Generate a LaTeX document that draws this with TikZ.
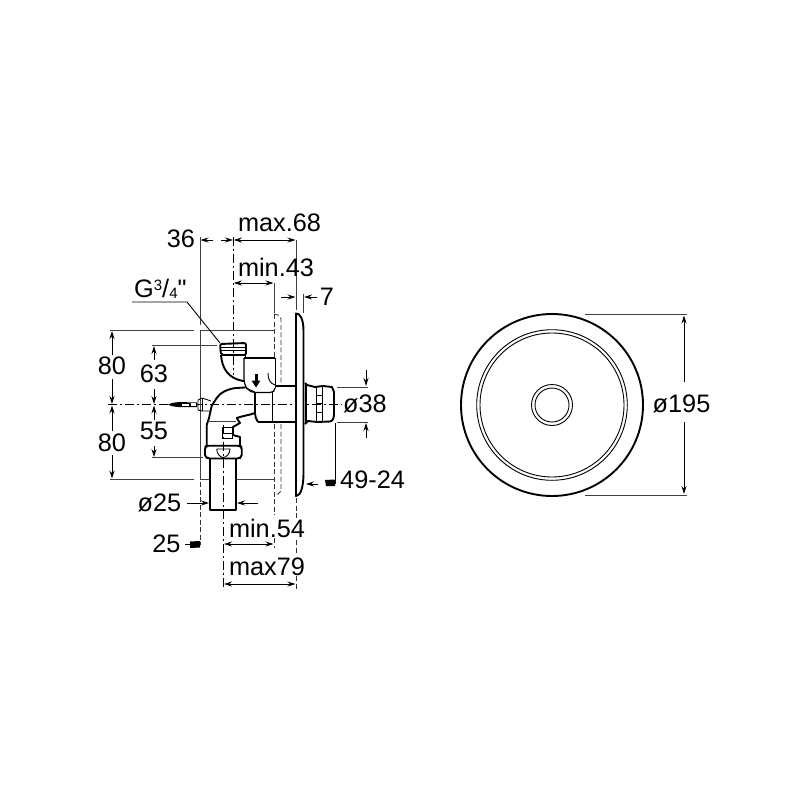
\documentclass[tikz,border=0pt]{standalone}
\usepackage{fontspec}
\setmainfont{Liberation Sans}
\newfontfamily\plainquote{Liberation Sans}
\usetikzlibrary{arrows.meta}
\tikzset{
  x=1pt,y=-1pt,
  lab/.style={inner sep=0pt,font=\fontsize{25.3}{27}\selectfont},
  thin line/.style={line width=0.9pt,draw=black},
  ext/.style={line width=1pt,draw=black!75},
  dim/.style={line width=0.8pt,draw=black,-{Stealth[length=8pt,width=5pt]}},
  dimb/.style={line width=0.8pt,draw=black,{Stealth[length=8pt,width=5pt]}-{Stealth[length=8pt,width=5pt]}},
  body/.style={line width=1.9pt,draw=black,line join=round},
  detail/.style={line width=0.9pt,draw=black},
  axis/.style={line width=0.8pt,draw=black,dash pattern=on 9pt off 3pt on 2pt off 3pt},
  hidden/.style={line width=0.8pt,draw=black!80,dash pattern=on 5pt off 2.5pt},
  tick/.style={fill=black,draw=none}
}
\begin{document}
\begin{tikzpicture}
\useasboundingbox (0,0) rectangle (800,800);
% --- axes
\draw[axis] (108,404.7) -- (342,404.7);
\draw[axis] (233.3,237) -- (233.3,375);
\draw[axis] (223,425) -- (223,590);
% --- extension lines
\draw[ext] (200,237) -- (200,325);
\draw[ext] (110,330) -- (194,330);
\draw[ext] (200,330) -- (274,330);
\draw[ext] (200,330) -- (200,479);
\draw[ext] (110,479) -- (194,479);
\draw[ext] (200,479) -- (210,479);
\draw[ext] (236,479) -- (274,479);
\draw[ext] (152,345) -- (217,345);
\draw[ext] (152,457.7) -- (203,457.7);
\draw[ext] (296,240) -- (296,310);
\draw[ext] (303,294) -- (303,313);
\draw[ext] (274,283) -- (274,313);
\draw[hidden] (200,482) -- (200,545);
\draw[hidden] (274,314) -- (274,358);
\draw[hidden] (274,424) -- (274,515);
\draw[hidden] (274,538) -- (274,548);
\draw[hidden] (296,498) -- (296,518);
\draw[hidden] (296,540) -- (296,554);
\draw[hidden] (296,576) -- (296,590);
\draw[hidden] (274,314) -- (278,315) -- (281,319) -- (281,385);
\draw[hidden] (281,424) -- (281,491) -- (278,494) -- (274,495);
\draw[ext] (337,387) -- (368,387);
\draw[ext] (337,422) -- (368,422);
\draw[ext] (585,314.5) -- (687,314.5);
\draw[ext] (585,495) -- (687,495);
% --- dimension arrows
\draw[dim] (213,240) -- (200.5,240);
\draw[dim] (221,240) -- (233,240);
\draw[dimb] (233.8,240) -- (295.5,240);
\draw[dimb] (233.8,283) -- (273.5,283);
\draw[dim] (281,297) -- (295.5,297);
\draw[dim] (317,297) -- (304,297);
\draw[dim] (112,355) -- (112,331);
\draw[dim] (112,379) -- (112,404);
\draw[dim] (112,431) -- (112,405.5);
\draw[dim] (112,455) -- (112,478.5);
\draw[dim] (154,360) -- (154,346);
\draw[dim] (154,389) -- (154,404);
\draw[dim] (154,420) -- (154,405.5);
\draw[dim] (154,446) -- (154,457);
\draw[dim] (187,503) -- (209,503);
\draw[dim] (258,503) -- (237,503);
\draw[dimb] (224,544) -- (273.5,544);
\draw[dimb] (224,584) -- (295.5,584);
\draw[dim] (366,370) -- (366,386);
\draw[dim] (366,438) -- (366,423);
\draw[dim] (318,484) -- (306,484);
\draw[dim] (684,382) -- (684,315.5);
\draw[dim] (684,422) -- (684,494);
% leader
\draw[thin line] (132,302) -- (187,302) -- (220,343);
% tick blocks
\draw[thin line] (185,544) -- (190,544);
\fill[tick] (190,541.5) -- (200,541) -- (200,547.5) -- (190,548) -- cycle;
\draw[thin line] (335,423) -- (335,484);
\fill[tick] (325,480) -- (335,479.5) -- (335,486) -- (326,486) -- cycle;
% --- plate
\draw[body,fill=white] (296,496) -- (296,313.5) .. controls (300,313) and (303.5,319) .. (303.5,331) -- (303.5,473) .. controls (303.5,486) and (301,496) .. (296,496) -- cycle;
\draw[line width=1pt,draw=white] (303.5,334) -- (303.5,470);
\draw[detail] (303.5,334) -- (303.5,470);
% --- valve body
\draw[body] (275,386) -- (295,386);
\draw[body] (258,422) -- (295,422);
\draw[body] (255,393) -- (255,413) .. controls (255.5,417) and (256,420) .. (258,422);
\draw[detail] (272,392) -- (272,422);
\draw[body] (305,383) -- (307,385) -- (315,387) -- (323,386) -- (332,387) -- (334,392) -- (334,413) .. controls (334,418) and (333,421) .. (330,421.5) -- (317,422) -- (308,421) -- (305,424);
\draw[body] (306,384) -- (306,423);
\draw[detail] (316,387) -- (316,422) (322,386) -- (322,422);
\draw[detail] (316,395) -- (322,395) (316,403) -- (322,403) (316,412) -- (322,412);
% valve box
\draw[body] (244,358) -- (275,358);
\draw[line width=1.2pt] (244,358) -- (244,378) .. controls (244,387) and (249,392.5) .. (255,392.5) -- (270,392.5) .. controls (273,392.5) and (275,391) .. (275,388);
\draw[detail] (275,358) -- (275,388);
\draw[detail] (268,373) .. controls (268,380) and (270,383) .. (275,385);
% flow arrow
\fill (254.5,374) rectangle (257.5,381);
\fill (251.5,380.5) -- (260.5,380.5) -- (256,387.5) -- cycle;
% upper threaded elbow
\draw[body,rounded corners=2pt] (221,355) -- (220,344) -- (246,343) -- (246,355) -- cycle;
\draw[detail] (220.5,347) -- (246,347) (220.5,350) -- (246,350);
\draw[body] (221,355) .. controls (222,368) and (228,379) .. (244,381);
\draw[detail] (245,355) -- (245,358);
% lower elbow
\draw[body] (245,387.5) -- (236,388) .. controls (227,389) and (220,393) .. (216.7,398) -- (211.7,405.7) -- (209,418) -- (206.7,425) -- (206.7,445.7);
\draw[detail] (245,387.5) -- (255,392);
% fitting
\draw[detail] (198,400) -- (202,398) -- (211,401);
\draw[detail] (198,400) -- (198,410) -- (202,411) -- (209.5,411);
\draw[detail] (202,398) -- (202,411);
% needle
\fill (168,404.7) .. controls (172,402) and (180,401.8) .. (188,402.3) -- (197,402.3) -- (197,407) -- (188,407) .. controls (180,407.5) and (172,407) .. cycle;
\fill[white] (182,403.6) rectangle (189,405.6);
\fill[white] (191,403.4) rectangle (196,405.8);
% lower body
\draw[ext] (208,421.7) -- (236,421.7);
\draw[body] (255,413) .. controls (250,415) and (242,416) .. (236.7,418) -- (240,423) -- (233,427) -- (233,435) -- (240,437) -- (240,445.7);
\draw[detail] (222,427.7) -- (232,427.7) -- (232,438) -- (222,438) -- cycle (222,433) -- (232,433);
% nut
\draw[body,rounded corners=2pt] (206.7,445.7) -- (205,447) -- (205,457) -- (208,458.5) -- (239,458.5) -- (241.7,457) -- (241.7,447) -- (240,445.7) -- cycle;
\draw[detail] (216.7,449) -- (230,449) .. controls (230,454) and (226,457.5) .. (223.3,457.5) .. controls (220.5,457.5) and (216.7,454) .. (216.7,449);
% tube
\draw[body] (210,458) -- (210,509.7) -- (235.7,509.7) -- (235.7,458);
% --- round front view
\draw[line width=1.9pt] (552,405) circle[radius=91];
\draw[line width=0.9pt] (552,405) circle[radius=75.3];
\draw[line width=0.9pt] (552,405) circle[radius=72];
\draw[line width=0.9pt] (552,405) circle[radius=20.5];
\draw[line width=0.9pt] (552,405) circle[radius=17];
% --- labels
\node[lab] (t36) at (181,239) {36};
\node[lab] (t68) at (279.5,223) {max.68};
\node[lab] (t43) at (276,267) {min.43};
\node[lab] (t7) at (327,297) {7};
\node[lab,anchor=west] (tg) at (134,289) {G\raisebox{7pt}{\fontsize{15}{15}\selectfont 3}/\raisebox{-1pt}{\fontsize{15}{15}\selectfont 4}{\plainquote "}};
\node[lab] (t80a) at (112,366) {80};
\node[lab] (t63) at (154,374) {63};
\node[lab] (t80b) at (112,443) {80};
\node[lab] (t55) at (154,431) {55};
\node[lab] (td25) at (159.5,503) {ø25};
\node[lab] (t25) at (166.5,544) {25};
\node[lab] (t54) at (267,528) {min.54};
\node[lab] (t79) at (267,567) {max79};
\node[lab] (td38) at (365,404) {ø38};
\node[lab,anchor=west] (t49) at (340,480) {49-24};
\node[lab] (td195) at (681.5,404) {ø195};
\end{tikzpicture}
\end{document}
